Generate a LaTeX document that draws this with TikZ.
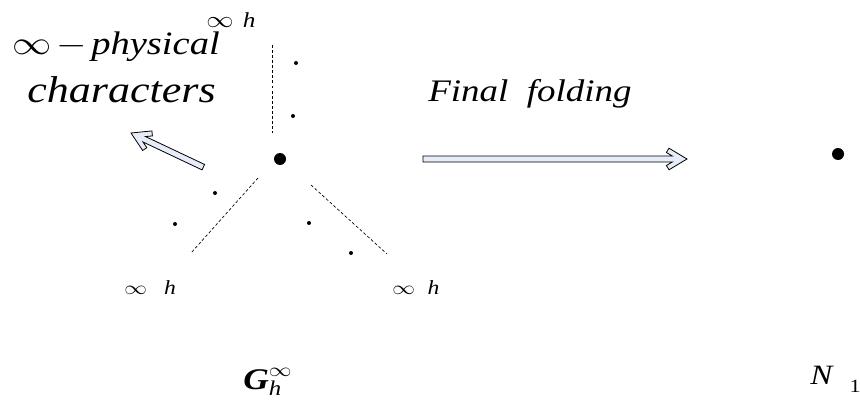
\documentclass[tikz,border=0pt]{standalone}
\usepackage{amsmath}
\usepackage{graphicx}
\usepackage{fontspec}
\setmainfont{Liberation Serif}
\usepackage{xcolor}
\definecolor{arrowfill}{RGB}{230,236,248}
\newcommand{\wide}[1]{\scalebox{1.18}[1]{#1}}

\begin{document}
\begin{tikzpicture}[x=0.75pt, y=-0.75pt,
    lbl/.style={inner sep=0pt, anchor=base west},
    armlbl/.style={lbl, font=\fontsize{15}{17}\selectfont},
    bigdot/.style={circle, fill, inner sep=0pt, minimum size=9pt},
    smalldot/.style={circle, fill, inner sep=0pt, minimum size=3pt},
    arm/.style={dashed, dash pattern=on 2.2pt off 1.6pt, line width=0.5pt},
    hollow/.style={fill=arrowfill, draw=black, line width=0.6pt, line join=miter}]
    \useasboundingbox (0,0) rectangle (860,403);
    % the graph G_h^infty and its three infinite arms
    \node[bigdot] (hub) at (280,159) {};
    \coordinate (upA) at (272,45);   \coordinate (upB) at (272,133);
    \coordinate (leftA) at (258,178); \coordinate (leftB) at (191,253);
    \coordinate (rightA) at (311,185); \coordinate (rightB) at (387,254);
    \draw[arm] (upA) -- (upB);
    \draw[arm] (leftA) -- (leftB);
    \draw[arm] (rightA) -- (rightB);
    \node[smalldot] (u1) at (296,63) {};
    \node[smalldot] (u2) at (293,116) {};
    \node[smalldot] (l1) at (215,193) {};
    \node[smalldot] (l2) at (175,224) {};
    \node[smalldot] (r1) at (309,223) {};
    \node[smalldot] (r2) at (351,253) {};
    \node[armlbl, font=\fontsize{16}{18}\selectfont] (uplbl) at (206,28) {\wide{$\infty$\hspace{6pt}\textit{h}}};
    \node[armlbl] (leftlbl) at (124,294) {\wide{$\infty$\hspace{11pt}\textit{h}}};
    \node[armlbl] (rightlbl) at (392,294) {\wide{$\infty$\hspace{8pt}\textit{h}}};
    \node[lbl, font=\fontsize{24.5}{28}\selectfont] (phys) at (12,55) {\wide{$\infty$\hspace{3pt}$-$\hspace{3pt}\textit{physical}}};
    \node[lbl, font=\fontsize{28}{32}\selectfont] (chars) at (27,103) {\wide{\textit{characters}}};
    \node[lbl, font=\fontsize{22.5}{26}\selectfont] (gname) at (243,389) {\wide{$\text{\bfseries\itshape G}^{\infty}_{\text{\itshape h}}$}};
    % the point N_1
    \node[bigdot] (pt) at (838,154) {};
    \node[lbl, font=\fontsize{21}{24}\selectfont] (nname) at (810,384) {\wide{\textit{N}\hspace{10pt}\raisebox{-6pt}{\fontsize{14}{16}\selectfont 1}}};
    \node[lbl, font=\fontsize{23.5}{28}\selectfont] (fold) at (428,102) {\wide{\textit{Final\ \ folding}}};
    % hollow arrows
    \begin{scope}[shift={(687,159)}]
        \filldraw[hollow] (-264,-3) -- (-264,3) -- (-14.7,3) -- (-20.6,6.5) -- (-18,10.8) -- (0,0)
            -- (-18,-10.8) -- (-20.6,-6.5) -- (-14.7,-3) -- cycle;
    \end{scope}
    \begin{scope}[shift={(131,133)}, rotate=154.7]
        \filldraw[hollow] (-80,-3) -- (-80,3) -- (-14.7,3) -- (-20.6,6.5) -- (-18,10.8) -- (0,0)
            -- (-18,-10.8) -- (-20.6,-6.5) -- (-14.7,-3) -- cycle;
    \end{scope}
\end{tikzpicture}
\end{document}
